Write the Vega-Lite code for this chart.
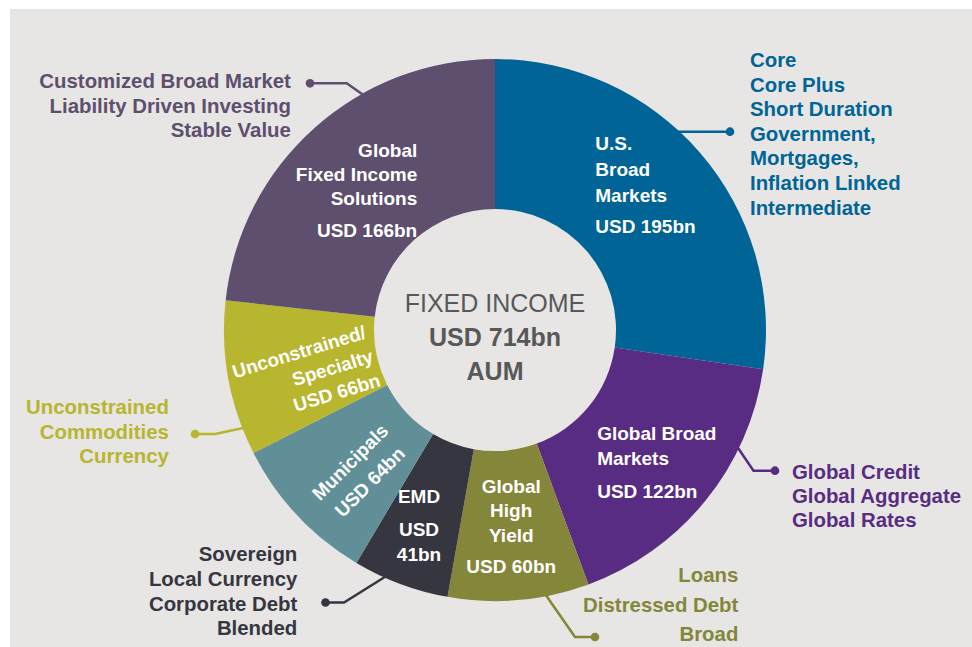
{
  "$schema": "https://vega.github.io/schema/vega-lite/v6.json",
  "width": 962,
  "height": 638,
  "padding": {"left": 10, "top": 9, "right": 0, "bottom": 0},
  "autosize": {"type": "none"},
  "background": "#ffffff",
  "view": {"fill": "#e7e6e4", "stroke": null},
  "config": {"font": "Liberation Sans"},
  "datasets": {
    "segs": [
      {"name": "US", "idx": 1, "value": 195, "nm": "U.S.\nBroad\nMarkets", "val": "USD 195bn", "outer": "Core\nCore Plus\nShort Duration\nGovernment,\nMortgages,\nInflation Linked\nIntermediate"},
      {"name": "GB", "idx": 2, "value": 122, "nm": "Global Broad\nMarkets", "val": "USD 122bn", "outer": "Global Credit\nGlobal Aggregate\nGlobal Rates"},
      {"name": "GHY", "idx": 3, "value": 60, "nm": "Global\nHigh\nYield", "val": "USD 60bn", "outer": "Loans\nDistressed Debt\nBroad"},
      {"name": "EMD", "idx": 4, "value": 41, "nm": "EMD", "val": "USD\n41bn", "outer": "Sovereign\nLocal Currency\nCorporate Debt\nBlended"},
      {"name": "MUNI", "idx": 5, "value": 64, "nm": "Municipals\nUSD 64bn", "val": "", "outer": ""},
      {"name": "UNC", "idx": 6, "value": 66, "nm": "Unconstrained/\nSpecialty\nUSD 66bn", "val": "", "outer": "Unconstrained\nCommodities\nCurrency"},
      {"name": "GFIS", "idx": 7, "value": 166, "nm": "Global\nFixed Income\nSolutions", "val": "USD 166bn", "outer": "Customized Broad Market\nLiability Driven Investing\nStable Value"}
    ],
    "conn": [
      {"name": "US", "step": 1, "cx": 175, "cy": 198.3, "end": 0},
      {"name": "US", "step": 2, "cx": 235, "cy": 198.3, "end": 1},
      {"name": "GB", "step": 1, "cx": 239.5, "cy": -112.7, "end": 0},
      {"name": "GB", "step": 2, "cx": 258.5, "cy": -140.7, "end": 0},
      {"name": "GB", "step": 3, "cx": 280, "cy": -140.7, "end": 1},
      {"name": "GHY", "step": 1, "cx": 48, "cy": -261, "end": 0},
      {"name": "GHY", "step": 2, "cx": 80, "cy": -307, "end": 0},
      {"name": "GHY", "step": 3, "cx": 100, "cy": -307, "end": 1},
      {"name": "EMD", "step": 1, "cx": -107, "cy": -245, "end": 0},
      {"name": "EMD", "step": 2, "cx": -151, "cy": -272.5, "end": 0},
      {"name": "EMD", "step": 3, "cx": -169.5, "cy": -272.5, "end": 1},
      {"name": "UNC", "step": 1, "cx": -247, "cy": -97, "end": 0},
      {"name": "UNC", "step": 2, "cx": -280, "cy": -104, "end": 0},
      {"name": "UNC", "step": 3, "cx": -300, "cy": -104, "end": 1},
      {"name": "GFIS", "step": 1, "cx": -127, "cy": 231.7, "end": 0},
      {"name": "GFIS", "step": 2, "cx": -148.3, "cy": 246.7, "end": 0},
      {"name": "GFIS", "step": 3, "cx": -185, "cy": 246.7, "end": 1}
    ]
  },
  "data": {"name": "segs"},
  "layer": [
    {
      "data": {"name": "conn"},
      "mark": {"type": "line", "strokeWidth": 2.5},
      "encoding": {
        "x": {"field": "cx", "type": "quantitative", "scale": {"domain": [-485, 477], "nice": false, "zero": false}, "axis": null},
        "y": {"field": "cy", "type": "quantitative", "scale": {"domain": [-317, 321], "nice": false, "zero": false}, "axis": null},
        "color": {"field": "name", "type": "nominal", "scale": {"domain": ["US", "GB", "GHY", "EMD", "MUNI", "UNC", "GFIS"], "range": ["#006496", "#582c83", "#84863a", "#363641", "#608f97", "#b8b52e", "#5e4f6e"]}, "legend": null},
        "order": {"field": "step", "type": "quantitative"}
      }
    },
    {
      "data": {"name": "conn"},
      "transform": [{"filter": "datum.end == 1"}],
      "mark": {"type": "point", "filled": true, "opacity": 1, "size": 75},
      "encoding": {
        "x": {"field": "cx", "type": "quantitative", "scale": {"domain": [-485, 477], "nice": false, "zero": false}, "axis": null},
        "y": {"field": "cy", "type": "quantitative", "scale": {"domain": [-317, 321], "nice": false, "zero": false}, "axis": null},
        "color": {"field": "name", "type": "nominal", "legend": null}
      }
    },
    {
      "mark": {"type": "arc", "outerRadius": 271, "innerRadius": 121, "stroke": null},
      "encoding": {
        "x": {"datum": 0, "type": "quantitative", "scale": {"domain": [-485, 477], "nice": false, "zero": false}, "axis": null},
        "y": {"datum": 0, "type": "quantitative", "scale": {"domain": [-317, 321], "nice": false, "zero": false}, "axis": null},
        "theta": {"field": "value", "type": "quantitative", "stack": true},
        "order": {"field": "idx", "type": "quantitative"},
        "color": {"field": "name", "type": "nominal", "legend": null}
      }
    },
    {
      "layer": [
        {"mark": {"type": "text", "radius": 196, "align": "left", "baseline": "middle", "dx": -48, "dy": -58, "lineHeight": 26, "fontSize": 19, "fontWeight": "bold", "color": "white", "lineBreak": "\n"},
         "encoding": {"text": {"condition": {"test": "datum.name === 'US'", "field": "nm", "type": "nominal"}, "value": ""}}},
        {"mark": {"type": "text", "radius": 196, "align": "left", "baseline": "middle", "dx": -48, "dy": 25, "lineHeight": 26, "fontSize": 19, "fontWeight": "bold", "color": "white", "lineBreak": "\n"},
         "encoding": {"text": {"condition": {"test": "datum.name === 'US'", "field": "val", "type": "nominal"}, "value": ""}}},
        {"mark": {"type": "text", "radius": 196, "align": "left", "baseline": "middle", "dx": -50, "dy": -19.5, "lineHeight": 25, "fontSize": 19, "fontWeight": "bold", "color": "white", "lineBreak": "\n"},
         "encoding": {"text": {"condition": {"test": "datum.name === 'GB'", "field": "nm", "type": "nominal"}, "value": ""}}},
        {"mark": {"type": "text", "radius": 196, "align": "left", "baseline": "middle", "dx": -50, "dy": 38, "lineHeight": 25, "fontSize": 19, "fontWeight": "bold", "color": "white", "lineBreak": "\n"},
         "encoding": {"text": {"condition": {"test": "datum.name === 'GB'", "field": "val", "type": "nominal"}, "value": ""}}},
        {"mark": {"type": "text", "radius": 196, "align": "center", "baseline": "middle", "dx": -1, "dy": -38.5, "lineHeight": 24.5, "fontSize": 19, "fontWeight": "bold", "color": "white", "lineBreak": "\n"},
         "encoding": {"text": {"condition": {"test": "datum.name === 'GHY'", "field": "nm", "type": "nominal"}, "value": ""}}},
        {"mark": {"type": "text", "radius": 196, "align": "center", "baseline": "middle", "dx": -1, "dy": 42, "lineHeight": 25, "fontSize": 19, "fontWeight": "bold", "color": "white", "lineBreak": "\n"},
         "encoding": {"text": {"condition": {"test": "datum.name === 'GHY'", "field": "val", "type": "nominal"}, "value": ""}}},
        {"mark": {"type": "text", "radius": 196, "align": "center", "baseline": "middle", "dx": -7.6, "dy": -17, "lineHeight": 25, "fontSize": 19, "fontWeight": "bold", "color": "white", "lineBreak": "\n"},
         "encoding": {"text": {"condition": {"test": "datum.name === 'EMD'", "field": "nm", "type": "nominal"}, "value": ""}}},
        {"mark": {"type": "text", "radius": 196, "align": "center", "baseline": "middle", "dx": -7.6, "dy": 16.5, "lineHeight": 25, "fontSize": 19, "fontWeight": "bold", "color": "white", "lineBreak": "\n"},
         "encoding": {"text": {"condition": {"test": "datum.name === 'EMD'", "field": "val", "type": "nominal"}, "value": ""}}},
        {"mark": {"type": "text", "radius": 196, "align": "center", "baseline": "middle", "angle": -45, "dx": 0, "dy": -2, "lineHeight": 28, "fontSize": 19, "fontWeight": "bold", "color": "white", "lineBreak": "\n"},
         "encoding": {"text": {"condition": {"test": "datum.name === 'MUNI'", "field": "nm", "type": "nominal"}, "value": ""}}},
        {"mark": {"type": "text", "radius": 196, "align": "right", "baseline": "middle", "angle": -17, "dx": 70, "dy": -13, "lineHeight": 25, "fontSize": 19, "fontWeight": "bold", "color": "white", "lineBreak": "\n"},
         "encoding": {"text": {"condition": {"test": "datum.name === 'UNC'", "field": "nm", "type": "nominal"}, "value": ""}}},
        {"mark": {"type": "text", "radius": 196, "align": "right", "baseline": "middle", "dx": 53, "dy": -33, "lineHeight": 24, "fontSize": 19, "fontWeight": "bold", "color": "white", "lineBreak": "\n"},
         "encoding": {"text": {"condition": {"test": "datum.name === 'GFIS'", "field": "nm", "type": "nominal"}, "value": ""}}},
        {"mark": {"type": "text", "radius": 196, "align": "right", "baseline": "middle", "dx": 53, "dy": 47, "lineHeight": 24, "fontSize": 19, "fontWeight": "bold", "color": "white", "lineBreak": "\n"},
         "encoding": {"text": {"condition": {"test": "datum.name === 'GFIS'", "field": "val", "type": "nominal"}, "value": ""}}},
        {"mark": {"type": "text", "radius": 300, "align": "left", "baseline": "middle", "dx": 28, "dy": -72.8, "lineHeight": 24.6, "fontSize": 20.4, "fontWeight": "bold", "lineBreak": "\n"},
         "encoding": {"text": {"condition": {"test": "datum.name === 'US'", "field": "outer", "type": "nominal"}, "value": ""}, "color": {"field": "name", "type": "nominal", "legend": null}}},
        {"mark": {"type": "text", "radius": 300, "align": "left", "baseline": "middle", "dx": 64, "dy": -46.2, "lineHeight": 24.2, "fontSize": 20.4, "fontWeight": "bold", "lineBreak": "\n"},
         "encoding": {"text": {"condition": {"test": "datum.name === 'GB'", "field": "outer", "type": "nominal"}, "value": ""}, "color": {"field": "name", "type": "nominal", "legend": null}}},
        {"mark": {"type": "text", "radius": 300, "align": "right", "baseline": "middle", "dx": 217, "dy": -52.5, "lineHeight": 29.5, "fontSize": 20.4, "fontWeight": "bold", "lineBreak": "\n"},
         "encoding": {"text": {"condition": {"test": "datum.name === 'GHY'", "field": "outer", "type": "nominal"}, "value": ""}, "color": {"field": "name", "type": "nominal", "legend": null}}},
        {"mark": {"type": "text", "radius": 300, "align": "right", "baseline": "middle", "dx": -93, "dy": -56.2, "lineHeight": 24.8, "fontSize": 20.4, "fontWeight": "bold", "lineBreak": "\n"},
         "encoding": {"text": {"condition": {"test": "datum.name === 'EMD'", "field": "outer", "type": "nominal"}, "value": ""}, "color": {"field": "name", "type": "nominal", "legend": null}}},
        {"mark": {"type": "text", "radius": 300, "align": "right", "baseline": "middle", "dx": -31, "dy": 24.5, "lineHeight": 24.5, "fontSize": 20.4, "fontWeight": "bold", "lineBreak": "\n"},
         "encoding": {"text": {"condition": {"test": "datum.name === 'UNC'", "field": "outer", "type": "nominal"}, "value": ""}, "color": {"field": "name", "type": "nominal", "legend": null}}},
        {"mark": {"type": "text", "radius": 300, "align": "right", "baseline": "middle", "dx": -4, "dy": -24.3, "lineHeight": 24.3, "fontSize": 20.4, "fontWeight": "bold", "lineBreak": "\n"},
         "encoding": {"text": {"condition": {"test": "datum.name === 'GFIS'", "field": "outer", "type": "nominal"}, "value": ""}, "color": {"field": "name", "type": "nominal", "legend": null}}}
      ],
      "encoding": {
        "x": {"datum": 0, "type": "quantitative", "scale": {"domain": [-485, 477], "nice": false, "zero": false}, "axis": null},
        "y": {"datum": 0, "type": "quantitative", "scale": {"domain": [-317, 321], "nice": false, "zero": false}, "axis": null},
        "theta": {"field": "value", "type": "quantitative", "stack": true},
        "order": {"field": "idx", "type": "quantitative"}
      }
    },
    {
      "data": {"values": [{"t": "FIXED INCOME"}]},
      "mark": {"type": "text", "align": "center", "baseline": "middle", "dy": -26, "fontSize": 25, "fontWeight": "normal", "color": "#58585a"},
      "encoding": {
        "x": {"datum": 0, "type": "quantitative", "scale": {"domain": [-485, 477], "nice": false, "zero": false}, "axis": null},
        "y": {"datum": 0, "type": "quantitative", "scale": {"domain": [-317, 321], "nice": false, "zero": false}, "axis": null},
        "text": {"field": "t", "type": "nominal"}
      }
    },
    {
      "data": {"values": [{"t": "USD 714bn\nAUM"}]},
      "mark": {"type": "text", "align": "center", "baseline": "middle", "dy": 8, "lineHeight": 34, "fontSize": 25, "fontWeight": "bold", "color": "#58585a", "lineBreak": "\n"},
      "encoding": {
        "x": {"datum": 0, "type": "quantitative", "scale": {"domain": [-485, 477], "nice": false, "zero": false}, "axis": null},
        "y": {"datum": 0, "type": "quantitative", "scale": {"domain": [-317, 321], "nice": false, "zero": false}, "axis": null},
        "text": {"field": "t", "type": "nominal"}
      }
    }
  ]
}
